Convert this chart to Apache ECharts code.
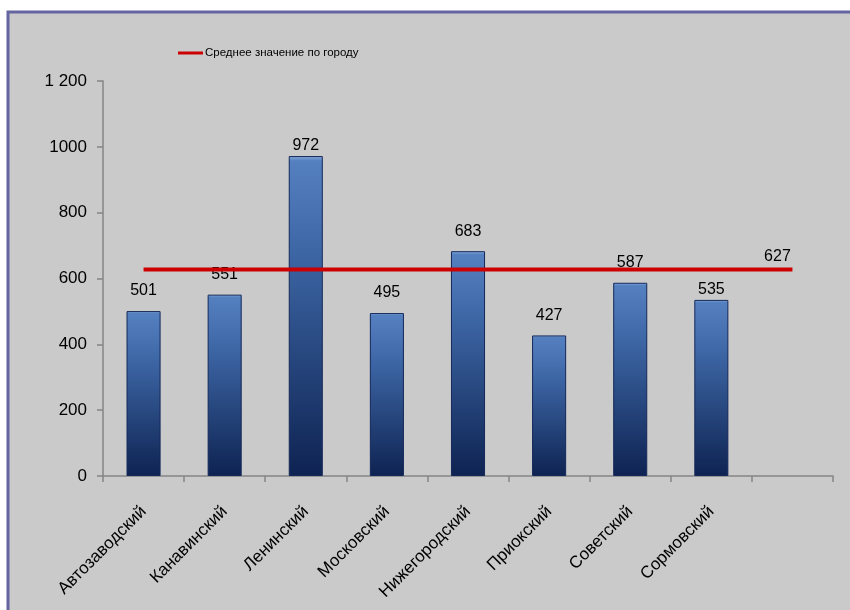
<!DOCTYPE html>
<html>
<head>
<meta charset="utf-8">
<script src="https://cdn.jsdelivr.net/npm/echarts@6/dist/echarts.min.js"></script>
<style>
  html, body { margin: 0; padding: 0; background: #ffffff; }
  #chart { width: 850px; height: 610px; }
</style>
</head>
<body>
<div id="chart"></div>
<script>
// Районы города и показатели по ним
const districts = ['Автозаводский', 'Канавинский', 'Ленинский', 'Московский',
  'Нижегородский', 'Приокский', 'Советский', 'Сормовский', ''];
const districtValues = [501, 551, 972, 495, 683, 427, 587, 535, '-'];
// Среднее значение по городу (горизонтальная линия)
const cityAverage = [627, 627, 627, 627, 627, 627, 627, 627, 627];
const yTicks = { 0: '0', 200: '200', 400: '400', 600: '600', 800: '800', 1000: '1000', 1200: '1 200' };
const averageName = 'Среднее значение по городу';

const textFont = "'Liberation Sans', Arial, sans-serif";
const chart = echarts.init(document.getElementById('chart'));

const barFill = new echarts.graphic.LinearGradient(0, 0, 0, 1, [
  { offset: 0, color: '#86abdc' },
  { offset: 0.015, color: '#5580c0' },
  { offset: 0.3, color: '#3d66a5' },
  { offset: 1, color: '#0e2352' }
]);

// подписи, которые стоят ближе к столбцу
const closeLabels = new Set(['Ленинский', 'Сормовский']);
const barData = districtValues.map((v, i) => ({
  value: v,
  label: { distance: closeLabels.has(districts[i]) ? 2 : 12 }
}));

chart.setOption({
  backgroundColor: '#ffffff',
  animation: false,
  graphic: [{
    type: 'rect',
    shape: { x: 8, y: 12, width: 860, height: 620 },
    style: { fill: '#cacaca', stroke: '#6565a0', lineWidth: 3 },
    z: -10
  }],
  legend: {
    data: [{ name: averageName, icon: 'rect' }],
    left: 173,
    top: 42,
    itemWidth: 25,
    itemHeight: 3,
    itemGap: 2,
    textStyle: { fontFamily: textFont, fontSize: 11.5, color: '#000', padding: [0, 0, 0, -3] }
  },
  grid: { left: 103, right: 17, top: 81, bottom: 134 },
  xAxis: {
    type: 'category',
    data: districts,
    boundaryGap: true,
    axisLine: { lineStyle: { color: '#858585', width: 1.5 } },
    axisTick: { show: true, length: 6, lineStyle: { color: '#858585', width: 1.5 } },
    axisLabel: {
      interval: 0,
      rotate: 45,
      margin: 33,
      color: '#000',
      fontFamily: textFont,
      fontSize: 17
    }
  },
  yAxis: {
    type: 'value',
    min: 0,
    max: 1200,
    interval: 200,
    splitLine: { show: false },
    axisLine: { show: true, lineStyle: { color: '#858585', width: 1.5 } },
    axisTick: { show: true, length: 6, lineStyle: { color: '#858585', width: 1.5 } },
    axisLabel: {
      margin: 16,
      color: '#000',
      fontFamily: textFont,
      fontSize: 17,
      formatter: v => yTicks[v]
    }
  },
  series: [
    {
      name: 'Значение',
      type: 'bar',
      data: barData,
      barWidth: '42%',
      itemStyle: { color: barFill, borderColor: '#14285a', borderWidth: 1 },
      label: {
        show: true,
        position: 'top',
        color: '#000',
        fontFamily: textFont,
        fontSize: 16
      },
      z: 2
    },
    {
      name: averageName,
      type: 'line',
      data: cityAverage,
      symbol: 'circle',
      symbolSize: 0.01,
      showSymbol: true,
      lineStyle: { color: '#cc0000', width: 4 },
      itemStyle: { color: '#cc0000' },
      label: {
        show: true,
        position: 'top',
        distance: 5,
        offset: [-15, 0],
        color: '#000',
        fontFamily: textFont,
        fontSize: 16,
        formatter: p => (p.dataIndex === cityAverage.length - 1 ? String(p.value) : '')
      },
      z: 3
    }
  ]
});
</script>
</body>
</html>
